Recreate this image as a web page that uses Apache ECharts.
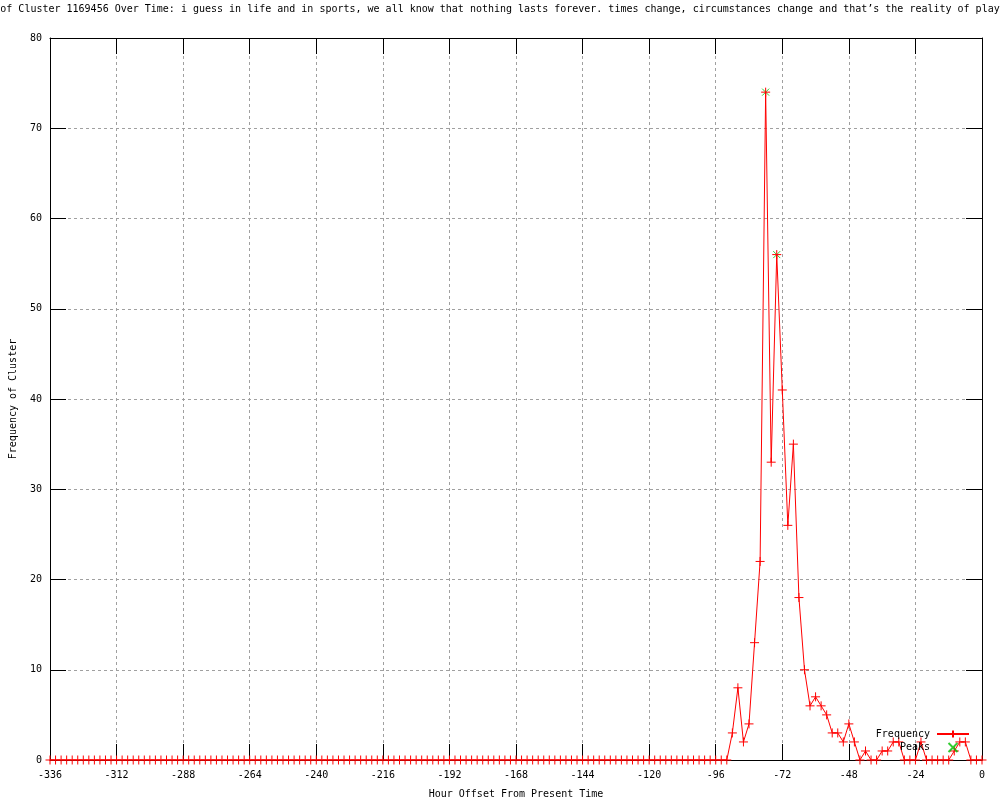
<!DOCTYPE html>
<html>
<head>
<meta charset="utf-8">
<script src="https://cdn.jsdelivr.net/npm/echarts@6/dist/echarts.min.js"></script>
<style>html,body{margin:0;padding:0;background:#fff}#c{width:1000px;height:800px}</style>
</head>
<body>
<div id="c"></div>
<script>
const titleText = "of Cluster 1169456 Over Time: i guess in life and in sports, we all know that nothing lasts forever. times change, circumstances change and that\u2019s the reality of play";
const xAxisName = "Hour Offset From Present Time";
const yAxisName = "Frequency of Cluster";
const seriesNames = ["Frequency", "Peaks"];

const hours = [
  -336,-334,-332,-330,-328,-326,-324,-322,-320,-318,-316,-314,-312,-310,-308,-306,-304,-302,-300,-298,
  -296,-294,-292,-290,-288,-286,-284,-282,-280,-278,-276,-274,-272,-270,-268,-266,-264,-262,-260,-258,
  -256,-254,-252,-250,-248,-246,-244,-242,-240,-238,-236,-234,-232,-230,-228,-226,-224,-222,-220,-218,
  -216,-214,-212,-210,-208,-206,-204,-202,-200,-198,-196,-194,-192,-190,-188,-186,-184,-182,-180,-178,
  -176,-174,-172,-170,-168,-166,-164,-162,-160,-158,-156,-154,-152,-150,-148,-146,-144,-142,-140,-138,
  -136,-134,-132,-130,-128,-126,-124,-122,-120,-118,-116,-114,-112,-110,-108,-106,-104,-102,-100,-98,
  -96,-94,-92,-90,-88,-86,-84,-82,-80,-78,-76,-74,-72,-70,-68,-66,-64,-62,-60,-58,
  -56,-54,-52,-50,-48,-46,-44,-42,-40,-38,-36,-34,-32,-30,-28,-26,-24,-22,-20,-18,
  -16,-14,-12,-10,-8,-6,-4,-2,0
];
const frequency = [
  0,0,0,0,0,0,0,0,0,0,0,0,0,0,0,0,0,0,0,0,
  0,0,0,0,0,0,0,0,0,0,0,0,0,0,0,0,0,0,0,0,
  0,0,0,0,0,0,0,0,0,0,0,0,0,0,0,0,0,0,0,0,
  0,0,0,0,0,0,0,0,0,0,0,0,0,0,0,0,0,0,0,0,
  0,0,0,0,0,0,0,0,0,0,0,0,0,0,0,0,0,0,0,0,
  0,0,0,0,0,0,0,0,0,0,0,0,0,0,0,0,0,0,0,0,
  0,0,0,3,8,2,4,13,22,74,33,56,41,26,35,18,10,6,7,6,
  5,3,3,2,4,2,0,1,0,0,1,1,2,2,0,0,0,2,0,0,
  0,0,0,1,2,2,0,0,0
];
const peakHours = [-78, -74];
const peakValues = [74, 56];

const xTicks = { min: -336, max: 0, interval: 24 };
const yTicks = { min: 0, max: 80, interval: 10 };

const FONT = "DejaVu Sans Mono";
const PLUS = 'path://M0,5L10,5M5,0L5,10';
const CROSS = 'path://M0,0L10,10M10,0L0,10';

const chart = echarts.init(document.getElementById('c'), null, { renderer: 'canvas' });

function axisBase() {
  return {
    axisLine: { show: true, onZero: false, lineStyle: { color: '#000', width: 1 } },
    axisTick: { show: true, inside: true, length: 16, lineStyle: { color: '#000' } },
    splitLine: { show: false }
  };
}

chart.setOption({
  animation: false,
  backgroundColor: '#fff',
  textStyle: { fontFamily: FONT },
  graphic: [{
    type: 'text', left: 'center', top: 4,
    style: { text: titleText, font: '10px "DejaVu Sans Mono"', fill: '#000' }
  }],
  grid: { left: 50, right: 18, top: 38, bottom: 40, containLabel: false, outerBoundsMode: 'none' },
  legend: {
    orient: 'vertical', right: 25, top: 724, align: 'right',
    itemWidth: 32, itemHeight: 9, itemGap: 3,
    textStyle: { fontFamily: FONT, fontSize: 10, color: '#000', padding: [0, 2, 0, 0] },
    data: seriesNames
  },
  xAxis: [
    Object.assign(axisBase(), {
      type: 'value', position: 'bottom', min: xTicks.min, max: xTicks.max, interval: xTicks.interval,
      name: xAxisName, nameLocation: 'middle', nameGap: 29,
      nameTextStyle: { fontFamily: FONT, fontSize: 10, color: '#000' },
      axisLabel: { margin: 10, fontFamily: FONT, fontSize: 10, color: '#000' },
      splitLine: { show: true, lineStyle: { color: '#a0a0a0', type: [3, 3], width: 1 } }
    }),
    Object.assign(axisBase(), {
      type: 'value', position: 'top', min: xTicks.min, max: xTicks.max, interval: xTicks.interval,
      axisLabel: { show: false }
    })
  ],
  yAxis: [
    Object.assign(axisBase(), {
      type: 'value', position: 'left', min: yTicks.min, max: yTicks.max, interval: yTicks.interval,
      name: yAxisName, nameLocation: 'middle', nameGap: 32,
      nameTextStyle: { fontFamily: FONT, fontSize: 10, color: '#000' },
      axisLabel: { margin: 8, fontFamily: FONT, fontSize: 10, color: '#000' },
      splitLine: { show: true, lineStyle: { color: '#a0a0a0', type: [3, 3], width: 1 } }
    }),
    Object.assign(axisBase(), {
      type: 'value', position: 'right', min: yTicks.min, max: yTicks.max, interval: yTicks.interval,
      axisLabel: { show: false }
    })
  ],
  series: [
    {
      name: seriesNames[0], type: 'line',
      data: hours.map((h, i) => [h, frequency[i]]),
      symbol: PLUS, symbolSize: 9, showSymbol: true, showAllSymbol: true,
      lineStyle: { color: '#ff0000', width: 1 },
      itemStyle: { color: '#ff0000', borderColor: '#ff0000', borderWidth: 1 },
      emphasis: { disabled: true }
    },
    {
      name: seriesNames[1], type: 'scatter',
      data: peakHours.map((h, i) => [h, peakValues[i]]),
      symbol: CROSS, symbolSize: 7,
      itemStyle: { color: '#00c000', borderColor: '#00c000', borderWidth: 1 },
      emphasis: { disabled: true }
    }
  ]
});
</script>
</body>
</html>
